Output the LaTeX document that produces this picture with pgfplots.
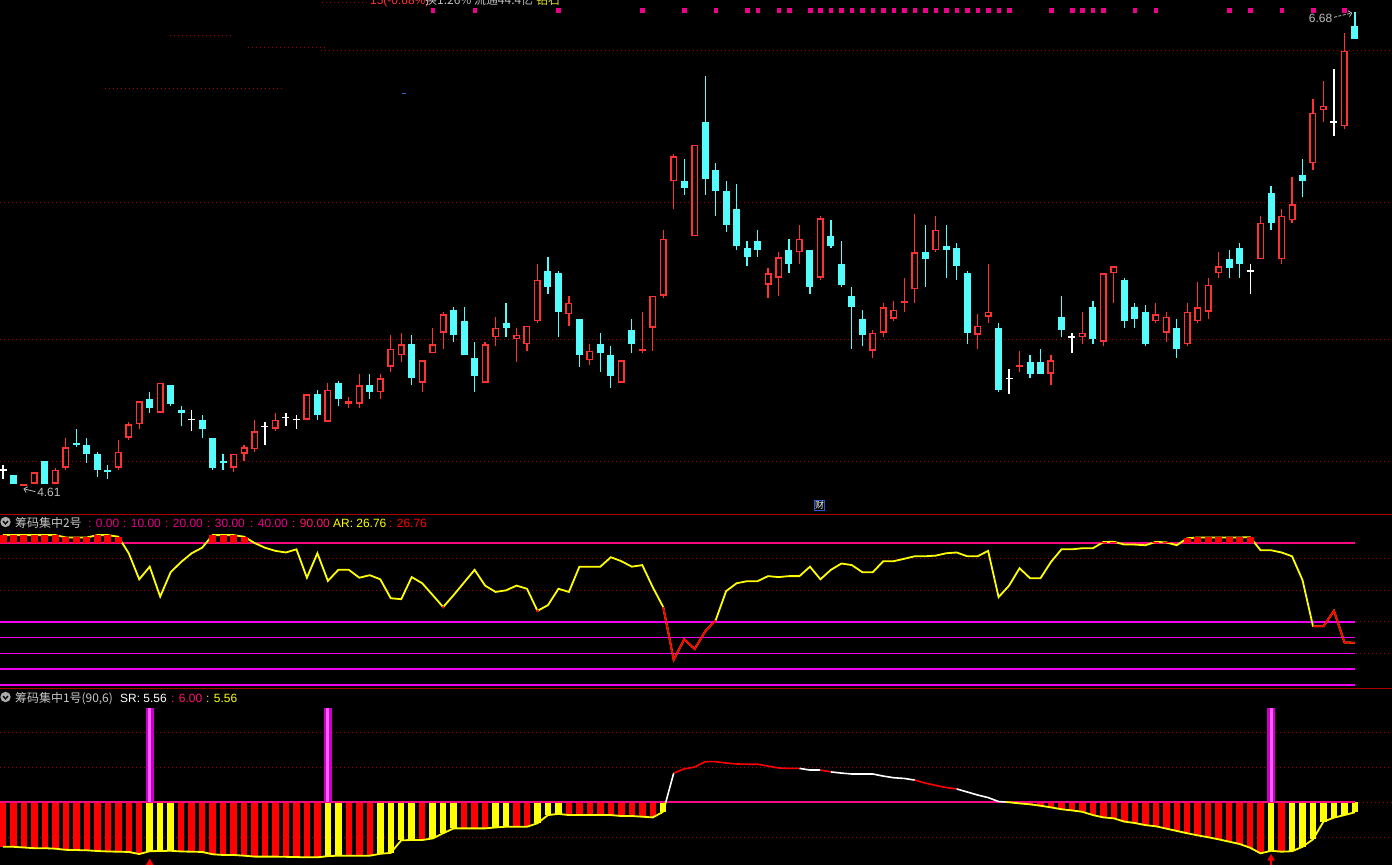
\documentclass[border=0pt]{standalone}
\usepackage{fontspec}
\setmainfont{Liberation Sans}
\newfontfamily\cjk{Noto Sans CJK SC}
\usepackage{pgfplots}
\usepackage{pgfplotstable}
\usetikzlibrary{arrows.meta}
\pgfplotsset{compat=1.18}

\definecolor{kred}{RGB}{255,50,50}
\definecolor{kcyan}{RGB}{84,252,252}
\definecolor{gridred}{RGB}{165,0,0}
\definecolor{magline}{RGB}{240,0,240}
\definecolor{pinkline}{RGB}{245,10,130}
\definecolor{pinktext}{RGB}{255,20,110}
\definecolor{kyel}{RGB}{255,255,0}
\definecolor{hdrgray}{RGB}{200,200,200}
\definecolor{sepred}{RGB}{170,0,0}
\definecolor{magbar}{RGB}{200,0,200}
\definecolor{magbarhi}{RGB}{255,90,255}
\definecolor{lblgray}{RGB}{190,190,190}
\definecolor{dashblue}{RGB}{40,90,210}
\definecolor{zuanyel}{RGB}{220,220,40}

% candles: i open high low close
\pgfplotstableread{
i o h l c
2 4.61 4.62 4.61 4.62
3 4.62 4.67 4.62 4.67
5 4.62 4.69 4.62 4.68
6 4.69 4.82 4.68 4.78
11 4.69 4.81 4.68 4.76
12 4.82 4.89 4.81 4.88
13 4.88 4.98 4.86 4.98
15 4.93 5.06 4.93 5.06
22 4.69 4.75 4.67 4.75
23 4.75 4.79 4.72 4.78
24 4.77 4.90 4.76 4.85
26 4.86 4.93 4.85 4.90
29 4.90 5.01 4.90 5.01
31 4.89 5.06 4.89 5.03
33 4.97 5.00 4.95 4.98
34 4.97 5.10 4.95 5.05
36 5.02 5.10 4.99 5.08
37 5.13 5.27 5.11 5.21
38 5.18 5.28 5.15 5.23
40 5.06 5.16 5.02 5.16
41 5.19 5.30 5.19 5.23
42 5.28 5.37 5.21 5.36
46 5.06 5.24 5.06 5.23
47 5.26 5.35 5.22 5.30
49 5.25 5.30 5.15 5.27
50 5.23 5.31 5.20 5.31
51 5.33 5.58 5.32 5.51
54 5.36 5.44 5.31 5.41
56 5.16 5.23 5.14 5.20
59 5.06 5.16 5.06 5.16
61 5.20 5.37 5.19 5.21
62 5.30 5.44 5.20 5.44
63 5.44 5.73 5.43 5.69
64 5.94 6.06 5.82 6.05
66 5.70 6.10 5.70 6.10
73 5.49 5.56 5.43 5.54
74 5.52 5.63 5.44 5.61
76 5.63 5.75 5.58 5.69
78 5.52 5.79 5.51 5.78
83 5.20 5.29 5.17 5.28
84 5.28 5.41 5.26 5.39
85 5.34 5.42 5.33 5.38
86 5.41 5.52 5.37 5.42
87 5.47 5.80 5.41 5.63
89 5.64 5.79 5.63 5.73
93 5.27 5.36 5.21 5.31
94 5.35 5.58 5.32 5.37
97 5.13 5.20 5.11 5.14
100 5.10 5.18 5.05 5.16
103 5.26 5.37 5.23 5.28
105 5.24 5.54 5.22 5.54
106 5.54 5.57 5.41 5.57
110 5.33 5.41 5.32 5.36
111 5.28 5.37 5.24 5.35
113 5.23 5.41 5.22 5.37
114 5.33 5.50 5.32 5.39
115 5.37 5.52 5.34 5.49
116 5.54 5.63 5.52 5.57
120 5.60 5.79 5.60 5.76
122 5.60 5.82 5.58 5.79
123 5.77 5.96 5.76 5.84
125 6.02 6.30 5.99 6.24
126 6.25 6.38 6.20 6.27
128 6.18 6.59 6.17 6.51
}\redK

\pgfplotstableread{
i o h l c
1 4.66 4.66 4.62 4.62
4 4.72 4.72 4.62 4.62
7 4.80 4.86 4.78 4.79
8 4.79 4.82 4.71 4.75
9 4.75 4.76 4.65 4.68
10 4.68 4.70 4.64 4.67
14 4.99 5.02 4.93 4.95
16 5.05 5.05 4.96 4.97
17 4.94 4.96 4.87 4.93
19 4.90 4.92 4.82 4.86
20 4.82 4.82 4.68 4.69
21 4.72 4.75 4.68 4.71
30 5.01 5.03 4.90 4.92
32 5.06 5.07 4.96 4.99
35 5.05 5.10 4.99 5.02
39 5.23 5.27 5.05 5.08
43 5.38 5.39 5.24 5.27
44 5.33 5.39 5.18 5.18
45 5.17 5.24 5.02 5.09
48 5.32 5.41 5.26 5.30
52 5.55 5.61 5.45 5.48
53 5.54 5.55 5.26 5.37
55 5.34 5.34 5.13 5.18
57 5.23 5.28 5.11 5.19
58 5.18 5.22 5.04 5.09
60 5.29 5.34 5.19 5.23
65 5.94 6.04 5.88 5.91
67 6.20 6.40 5.88 5.95
68 5.99 6.02 5.79 5.90
69 5.90 5.94 5.72 5.75
70 5.82 5.93 5.64 5.66
71 5.65 5.68 5.57 5.61
72 5.68 5.73 5.61 5.64
75 5.64 5.69 5.54 5.58
77 5.64 5.64 5.45 5.48
79 5.70 5.77 5.65 5.66
80 5.58 5.68 5.48 5.49
81 5.44 5.48 5.21 5.39
82 5.34 5.38 5.22 5.27
88 5.63 5.75 5.48 5.60
90 5.66 5.75 5.52 5.64
91 5.65 5.67 5.51 5.57
92 5.54 5.55 5.23 5.28
95 5.30 5.32 5.02 5.03
98 5.15 5.18 5.08 5.10
99 5.15 5.21 5.10 5.10
101 5.35 5.44 5.26 5.29
104 5.39 5.42 5.23 5.25
107 5.51 5.52 5.30 5.33
108 5.39 5.41 5.30 5.34
109 5.37 5.40 5.22 5.23
112 5.30 5.34 5.17 5.21
117 5.60 5.64 5.52 5.56
118 5.65 5.67 5.52 5.58
121 5.89 5.92 5.73 5.76
124 5.97 6.04 5.87 5.94
129 6.62 6.68 6.56 6.56
}\cyanK

\pgfplotstableread{
i o h l c
0 4.68 4.70 4.64 4.68
18 4.90 4.94 4.85 4.90
25 4.87 4.89 4.79 4.87
27 4.91 4.93 4.87 4.91
28 4.90 4.92 4.86 4.90
96 5.08 5.12 5.01 5.08
102 5.26 5.28 5.19 5.26
119 5.55 5.58 5.45 5.55
127 6.20 6.43 6.14 6.20
}\whiteK

% indicator 2: AR
\pgfplotstableread{
i ar
0 95
1 95
2 95
3 95
4 95
5 95
6 93.5
7 93.5
8 93.5
9 95
10 95
11 94
12 83.5
13 67
14 75
15 56
16 71.5
17 78
18 83.5
19 87
20 95
21 95
22 95
23 94
24 90
25 87
26 85
27 84
28 86
29 68
30 83.5
31 66
32 73
33 73
34 68
35 69.6
36 67
37 55
38 54.4
39 68.4
40 64.5
41 57
42 49.4
43 57
44 65
45 73
46 63
47 59
48 60
49 63
50 61
51 47
52 50.6
53 61
54 59
55 75
56 75
57 75
58 81
59 78.5
60 75
61 76
62 62
63 49.4
64 16
65 29
66 22.8
67 34
68 41
69 59.5
70 64.5
71 65.8
72 65.8
73 69
74 68.4
75 69
76 69
77 75
78 67
79 73
80 77
81 76
82 71.5
83 71.5
84 78.5
85 78.5
86 80
87 81.6
88 81.6
89 82
90 83.5
91 84
92 81.6
93 81.6
94 85
95 55.7
96 63
97 74
98 67.7
99 67.7
100 78
101 86
102 86
103 86.7
104 86.7
105 90.6
106 90.8
107 89
108 89
109 88.6
110 90.7
111 90.4
112 88.6
113 93
114 93.5
115 93.5
116 93.5
117 93.5
118 93.5
119 93.7
120 85.4
121 85.4
122 84
123 81.6
124 66.5
125 37.3
126 37.3
127 47
128 27
129 26.76
}\artab

% indicator 1: SR below 6 (c=1 yellow bar, c=0 red bar)
\pgfplotstableread{
i v c
0 4.08 0
1 4.08 0
2 4.05 0
3 4.02 0
4 4.02 0
5 4.00 0
6 3.95 0
7 3.94 0
8 3.93 0
9 3.90 0
10 3.88 0
11 3.87 0
12 3.86 0
13 3.77 0
14 3.89 1
15 3.90 1
16 3.91 1
17 3.88 0
18 3.87 0
19 3.86 0
20 3.76 0
21 3.73 0
22 3.73 0
23 3.70 0
24 3.66 0
25 3.66 0
26 3.66 0
27 3.65 0
28 3.64 0
29 3.63 0
30 3.63 0
31 3.68 1
32 3.70 1
33 3.70 0
34 3.70 0
35 3.70 0
36 3.78 1
37 3.82 1
38 4.36 1
39 4.37 1
40 4.37 0
41 4.44 1
42 4.66 1
43 4.87 1
44 4.87 0
45 4.87 0
46 4.87 0
47 4.91 1
48 4.94 1
49 4.94 0
50 4.94 0
51 5.09 1
52 5.44 1
53 5.49 1
54 5.44 0
55 5.44 0
56 5.44 0
57 5.44 0
58 5.44 0
59 5.40 0
60 5.40 0
61 5.37 0
62 5.34 0
63 5.58 1
96 5.99 0
97 5.94 0
98 5.90 0
99 5.84 0
100 5.77 0
101 5.69 0
102 5.64 0
103 5.58 0
104 5.44 0
105 5.34 0
106 5.30 0
107 5.16 0
108 5.10 0
109 5.01 0
110 4.96 0
111 4.86 0
112 4.76 0
113 4.66 0
114 4.57 0
115 4.49 0
116 4.40 0
117 4.30 0
118 4.20 0
119 4.04 0
120 3.80 0
121 3.91 1
122 3.87 0
123 3.89 1
124 4.08 1
125 4.40 1
126 5.16 1
127 5.33 1
128 5.44 1
129 5.56 1
}\srtab

\pgfplotsset{
  panel/.style={hide axis, scale only axis, width=1392bp, xmin=-0.2863, xmax=132.54, anchor=north west, clip=true},
  gridl/.style={gridred, line width=1bp, dash pattern=on 1bp off 3bp, forget plot},
  ebar/.style 2 args={draw=none, mark=none, forget plot, error bars/.cd, y dir=plus, y explicit, error mark=none, error bar style={draw=#1, solid, line width=#2}},
}

\begin{document}
\begin{tikzpicture}
\fill[black] (0,0) rectangle (1392bp,-865bp);

% ================= price panel =================
\begin{axis}[panel, at={(0,0)}, height=512bp, ymin=4.4965, ymax=6.7324]
\addplot[gridl] coordinates {(30.3,6.510)(132.6,6.510)};
\addplot[gridl] coordinates {(-0.3,5.846)(132.6,5.846)};
\addplot[gridl] coordinates {(-0.3,5.248)(132.6,5.248)};
\addplot[gridl] coordinates {(-0.3,4.719)(132.6,4.719)};
\addplot[gridl] coordinates {(15.9,6.579)(21.7,6.579)};
\addplot[gridl] coordinates {(23.4,6.527)(30.7,6.527)};
\addplot[gridl] coordinates {(9.7,6.344)(26.5,6.344)};
\addplot[gridl] coordinates {(30.4,6.723)(34.9,6.723)};
\addplot[dashblue, line width=1bp, forget plot] coordinates {(38.1,6.326)(38.5,6.326)};
% wicks
\addplot[ebar={kred}{1.2bp}] table[x=i, y=l, y error plus expr=\thisrow{h}-\thisrow{l}] {\redK};
\addplot[ebar={kcyan}{1.2bp}] table[x=i, y=l, y error plus expr=\thisrow{h}-\thisrow{l}] {\cyanK};
\addplot[ebar={white}{1.2bp}] table[x=i, y=l, y error plus expr=\thisrow{h}-\thisrow{l}] {\whiteK};
% bodies
\addplot[ebar={kred}{7bp}] table[x=i, y=o, y error plus expr=\thisrow{c}-\thisrow{o}] {\redK};
\addplot[ebar={black}{4bp}] table[x=i, y expr=\thisrow{o}+0.0066, y error plus expr={max(\thisrow{c}-\thisrow{o}-0.0131,0)}] {\redK};
\addplot[ebar={kcyan}{7bp}] table[x=i, y=c, y error plus expr=\thisrow{o}-\thisrow{c}] {\cyanK};
\addplot[ebar={white}{7bp}] table[x=i, y expr=\thisrow{o}-0.0033, y error plus expr=0.0066] {\whiteK};
% signal squares
\addplot[only marks, mark=square*, mark size=1.75bp, color=magenta, forget plot] coordinates {
(41,6.687)(45,6.687)(53,6.687)(61,6.687)(65,6.687)(68,6.687)(71,6.687)(72,6.687)(74,6.687)(75,6.687)
(77,6.687)(78,6.687)(79,6.687)(80,6.687)(81,6.687)(82,6.687)(83,6.687)(84,6.687)(85,6.687)(86,6.687)
(87,6.687)(88,6.687)(89,6.687)(90,6.687)(91,6.687)(92,6.687)(93,6.687)(94,6.687)(95,6.687)(96,6.687)
(100,6.687)(102,6.687)(103,6.687)(104,6.687)(105,6.687)(108,6.687)(110,6.687)(117,6.687)(119,6.687)
(122,6.687)(125,6.687)(128,6.687)};
% extreme labels
\node[anchor=east, inner sep=0pt, text=lblgray, font=\fontsize{12}{12}\selectfont] at (axis cs:126.85,6.654) {6.68};
\draw[lblgray, line width=0.8bp, dash pattern=on 3bp off 1.5bp, -{Straight Barb[length=3bp]}] (axis cs:127.0,6.657) -- (axis cs:128.75,6.676);
\node[anchor=west, inner sep=0pt, text=lblgray, font=\fontsize{12}{12}\selectfont] at (axis cs:3.25,4.582) {4.61};
\draw[lblgray, line width=0.8bp, -{Straight Barb[length=3bp]}] (axis cs:3.1,4.585) -- (axis cs:1.95,4.598);
\end{axis}

% ================= AR panel =================
\begin{axis}[panel, at={(0,-514bp)}, height=174bp, ymin=-1.90, ymax=108.38]
\addplot[gridl] coordinates {(-0.3,20)(132.6,20)};
\addplot[gridl] coordinates {(-0.3,40)(132.6,40)};
\addplot[gridl] coordinates {(-0.3,60)(132.6,60)};
\addplot[gridl] coordinates {(-0.3,80)(132.6,80)};
\addplot[magline, line width=1.5bp, forget plot] coordinates {(-0.3,0)(129,0)};
\addplot[magline, line width=1.5bp, forget plot] coordinates {(-0.3,10)(129,10)};
\addplot[magline, line width=1.5bp, forget plot] coordinates {(-0.3,20)(129,20)};
\addplot[magline, line width=1.5bp, forget plot] coordinates {(-0.3,30)(129,30)};
\addplot[magline, line width=1.5bp, forget plot] coordinates {(-0.3,40)(129,40)};
\addplot[pinkline, line width=1.5bp, forget plot] coordinates {(-0.3,90)(129,90)};
\addplot[kyel, line width=1.8bp, forget plot] table[x=i, y=ar] {\artab};
\addplot[red, line width=1.8bp, forget plot] coordinates {(63,49.4)(64,16)(65,29)(66,22.8)(67,34)(68,41)};
\addplot[red, line width=1.8bp, forget plot] coordinates {(125,37.3)(126,37.3)(127,47)(128,27)(129,26.76)};
\addplot[only marks, mark=*, mark size=1.1bp, red, forget plot] coordinates {(42,49.4)(51,47)};
\addplot[ebar={red}{7bp}] table[x=i, y expr=90, y error plus expr={max(\thisrow{ar}-90,0)}] {\artab};
\end{axis}

% ================= SR panel =================
\begin{axis}[panel, at={(0,-688bp)}, height=177bp, ymin=3.300, ymax=10.886]
\addplot[gridl] coordinates {(-0.3,9)(132.6,9)};
\addplot[gridl] coordinates {(-0.3,7.5)(132.6,7.5)};
\addplot[gridl] coordinates {(-0.3,4.5)(132.6,4.5)};
\addplot[gridl] coordinates {(129,6)(132.6,6)};
\addplot[ebar={red}{6.5bp}] table[x=i, y=v, y error plus expr={(1-\thisrow{c})*(6-\thisrow{v})}] {\srtab};
\addplot[ebar={kyel}{6.5bp}] table[x=i, y=v, y error plus expr={\thisrow{c}*(6-\thisrow{v})}] {\srtab};
\addplot[pinkline, line width=1.4bp, forget plot] coordinates {(-0.3,6)(129,6)};
% magenta signal bars
\addplot[ebar={magbar}{8bp}] coordinates {(14,6) += (0,4.03) (31,6) += (0,4.03) (121,6) += (0,4.03)};
\addplot[ebar={magbarhi}{3bp}] coordinates {(14,6) += (0,4.03) (31,6) += (0,4.03) (121,6) += (0,4.03)};
% SR line below 6 (yellow)
\addplot[kyel, line width=1.8bp, forget plot, restrict x to domain=0:63] table[x=i, y=v] {\srtab};
\addplot[kyel, line width=1.8bp, forget plot] coordinates {(63,5.58)(63.25,6.0)};
\addplot[kyel, line width=1.8bp, forget plot] coordinates {(95.67,6.0)(96,5.99)};
\addplot[kyel, line width=1.8bp, forget plot, restrict x to domain=96:129] table[x=i, y=v] {\srtab};
% SR line above 6 (white / red pieces)
\addplot[white, line width=1.6bp, forget plot] coordinates {(63.25,6.0)(64,7.24)};
\addplot[red, line width=1.6bp, forget plot] coordinates {(64,7.24)(65,7.42)(66,7.50)(67,7.73)(68,7.73)(69,7.67)(70,7.63)(71,7.62)(72,7.62)(73,7.54)(74,7.46)(75,7.44)(76,7.44)};
\addplot[white, line width=1.6bp, forget plot] coordinates {(76,7.44)(77,7.37)(78,7.37)};
\addplot[red, line width=1.6bp, forget plot] coordinates {(78,7.37)(79,7.29)};
\addplot[white, line width=1.6bp, forget plot] coordinates {(79,7.29)(80,7.24)(81,7.20)(82,7.20)(83,7.20)(84,7.11)(85,7.04)(86,7.01)(87,6.94)};
\addplot[red, line width=1.6bp, forget plot] coordinates {(87,6.94)(88,6.81)(89,6.71)(90,6.62)(91,6.56)};
\addplot[white, line width=1.6bp, forget plot] coordinates {(91,6.56)(92,6.43)(93,6.30)(94,6.19)(95,6.02)(95.67,6.0)};
% buy markers
\addplot[only marks, mark=triangle*, mark size=4bp, color=red, forget plot] coordinates {(14,3.385)(31,3.22)(121,3.58)};
\addplot[ebar={red}{1.5bp}] coordinates {(121,3.30) += (0,0.26)};
\end{axis}

% panel separators
\draw[sepred, line width=1bp] (0,-514.5bp) -- (1392bp,-514.5bp);
\draw[sepred, line width=1bp] (0,-688.5bp) -- (1392bp,-688.5bp);

% truncated quote line at the very top (cut by the window edge, as in the source)
\node[anchor=base west, inner sep=0pt, text=kred, font=\fontsize{12}{12}\selectfont] at (370bp,-4bp) {15(-0.68\%)};
\node[anchor=base west, inner sep=0pt, text=lblgray, font=\cjk\fontsize{12}{12}\selectfont] at (425bp,-4bp) {换1.26\% 流通44.4亿};
\node[anchor=base west, inner sep=0pt, text=zuanyel, font=\cjk\fontsize{12}{12}\selectfont] at (536bp,-4bp) {钻石};

% 财 marker
\node[draw=dashblue, fill=black, text=white, inner sep=0.6bp, font=\cjk\fontsize{9}{9}\selectfont] at (819.5bp,-505bp) {财};

% header of indicator 2
\fill[gray!65] (5.5bp,-522bp) circle (5.2bp);
\draw[black, line width=1.3bp] (3bp,-521bp) -- (5.5bp,-523.8bp) -- (8bp,-521bp);
\node[anchor=base west, inner sep=0pt, text=hdrgray, font=\cjk\fontsize{12}{12}\selectfont] at (15bp,-527bp) {筹码集中2号};
\begin{scope}[every node/.style={anchor=base west, inner sep=0pt, font=\fontsize{12}{12}\selectfont}]
\node[text=magenta] at (88bp,-527bp) {: 0.00};
\node[text=magenta] at (123bp,-527bp) {: 10.00};
\node[text=magenta] at (165bp,-527bp) {: 20.00};
\node[text=magenta] at (207bp,-527bp) {: 30.00};
\node[text=magenta] at (250bp,-527bp) {: 40.00};
\node[text=pinktext] at (292bp,-527bp) {: 90.00};
\node[text=kyel] at (333bp,-527bp) {AR: 26.76};
\node[text=red] at (389bp,-527bp) {: 26.76};
\end{scope}

% header of indicator 1
\fill[gray!65] (5.5bp,-697bp) circle (5.2bp);
\draw[black, line width=1.3bp] (3bp,-696bp) -- (5.5bp,-698.8bp) -- (8bp,-696bp);
\node[anchor=base west, inner sep=0pt, text=hdrgray, font=\cjk\fontsize{12}{12}\selectfont] at (15bp,-702bp) {筹码集中1号(90,6)};
\begin{scope}[every node/.style={anchor=base west, inner sep=0pt, font=\fontsize{12}{12}\selectfont}]
\node[text=white] at (120bp,-702bp) {SR: 5.56};
\node[text=pinktext] at (171bp,-702bp) {: 6.00};
\node[text=kyel] at (206bp,-702bp) {: 5.56};
\end{scope}

\pgfresetboundingbox
\path[use as bounding box] (0,0) rectangle (1392bp,-865bp);
\end{tikzpicture}
\end{document}
